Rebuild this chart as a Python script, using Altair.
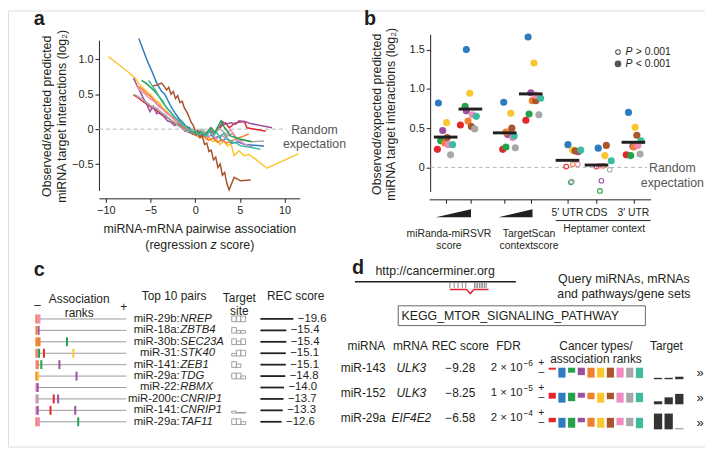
import altair as alt
import pandas as pd

# ---------------- shared categories ----------------
cancer_types = [f"Cancer type {i}" for i in range(1, 11)]
cancer_colors = ["#e5272d", "#2d7cc0", "#23a24a", "#9b4f9e", "#f1802e",
                 "#fcc630", "#a9542b", "#ef8bbf", "#a8a8a8", "#3dbc9d"]
RED, BLUE, GREEN, PURPLE, ORANGE, YELLOW, BROWN, PINK, GRAY, TEAL = range(10)

# ---------------- panel a: (z score, log2 obs/exp) ----------------
a_red = [(-6.9,0.49),(-6.4,0.45),(-5.9,0.40),(-5.4,0.36),(-4.9,0.31),(-4.4,0.28),(-3.9,0.22),(-3.4,0.18),(-2.9,0.15),(-2.4,0.09),(-1.9,0.06),(-1.4,0.02),(-0.9,-0.03),(-0.4,-0.06),(0.1,-0.09),(0.6,-0.05),(1.1,-0.10),(1.6,-0.04),(2.1,-0.07),(2.6,0.0),(3.0,0.05),(3.4,0.09),(3.8,0.02),(4.5,0.09),(5.5,0.11),(5.8,0.02),(7.9,-0.03)]
a_blue = [(-6.3,1.30),(-5.8,1.13),(-5.3,0.96),(-4.8,0.82),(-4.3,0.66),(-3.8,0.55),(-3.4,0.50),(-3.0,0.40),(-2.6,0.30),(-2.2,0.22),(-1.8,0.15),(-1.4,0.10),(-1.0,0.04),(-0.6,0.02),(-0.2,-0.06),(0.2,-0.03),(0.6,-0.09),(1.0,-0.05),(1.4,-0.11),(1.8,-0.08),(2.2,-0.14),(2.6,-0.10),(3.0,-0.17),(3.5,-0.13),(4.1,-0.20),(4.8,-0.18),(5.5,-0.22),(6.5,-0.23),(7.7,-0.24)]
a_green = [(-6.0,0.70),(-5.5,0.66),(-5.0,0.60),(-4.5,0.54),(-4.0,0.46),(-3.5,0.36),(-3.0,0.28),(-2.6,0.22),(-2.2,0.16),(-1.8,0.12),(-1.4,0.06),(-1.0,0.04),(-0.6,-0.02),(-0.2,-0.04),(0.2,-0.08),(0.6,-0.03),(1.0,-0.09),(1.4,-0.04),(1.8,0.02),(2.2,-0.05),(2.6,0.05),(2.9,0.12),(3.3,0.02),(4.0,-0.10),(5.0,-0.14),(6.3,-0.18)]
a_purple = [(-6.9,0.73),(-6.4,0.60),(-5.9,0.47),(-5.4,0.35),(-5.05,0.25),(-4.7,0.33),(-4.3,0.22),(-3.9,0.25),(-3.5,0.18),(-3.1,0.12),(-2.7,0.10),(-2.3,0.05),(-1.9,0.08),(-1.5,0.02),(-1.1,-0.03),(-0.7,0.0),(-0.3,-0.07),(0.1,-0.04),(0.5,-0.10),(0.9,-0.05),(1.3,-0.08),(1.7,-0.02),(2.1,-0.06),(2.5,0.0),(2.8,0.04),(3.06,0.11),(3.4,0.07),(4.0,0.09),(4.55,0.07),(4.9,0.12),(5.5,0.11),(6.2,0.08),(8.6,0.02)]
a_orange = [(-6.5,0.62),(-6.0,0.58),(-5.5,0.52),(-5.0,0.47),(-4.5,0.40),(-4.0,0.34),(-3.5,0.27),(-3.0,0.22),(-2.5,0.16),(-2.0,0.10),(-1.5,0.05),(-1.0,0.01),(-0.5,-0.04),(0.0,-0.08),(0.5,-0.12),(1.0,-0.10),(1.5,-0.16),(2.0,-0.13),(2.5,-0.19),(3.0,-0.15),(3.5,-0.20),(4.36,-0.15),(5.2,-0.11),(6.0,-0.07)]
a_yellow = [(-9.7,1.04),(-8.6,0.93),(-7.6,0.83),(-6.7,0.73),(-6.1,0.62),(-5.5,0.55),(-5.0,0.50),(-4.5,0.42),(-4.0,0.38),(-3.6,0.30),(-3.2,0.26),(-2.8,0.20),(-2.4,0.17),(-2.0,0.10),(-1.6,0.06),(-1.2,0.02),(-0.8,-0.02),(-0.4,-0.06),(0.0,-0.04),(0.4,-0.10),(0.8,-0.08),(1.2,-0.14),(1.6,-0.12),(2.0,-0.18),(2.4,-0.15),(2.8,-0.22),(3.2,-0.17),(3.6,-0.24),(4.0,-0.20),(4.36,-0.38),(4.9,-0.31),(5.46,-0.38),(6.0,-0.36),(6.76,-0.43),(8.04,-0.56),(11.6,-0.35)]
a_brown = [(-4.8,0.62),(-4.3,0.63),(-3.75,0.66),(-3.45,0.61),(-3.2,0.56),(-2.95,0.60),(-2.7,0.50),(-2.45,0.54),(-2.2,0.44),(-1.95,0.48),(-1.7,0.38),(-1.45,0.40),(-1.2,0.30),(-0.95,0.25),(-0.7,0.18),(-0.45,0.10),(-0.2,0.05),(0.05,-0.04),(0.3,-0.02),(0.55,-0.12),(0.8,-0.10),(1.05,-0.22),(1.3,-0.20),(1.55,-0.32),(1.8,-0.30),(2.05,-0.44),(2.3,-0.40),(2.55,-0.55),(2.8,-0.50),(3.05,-0.66),(3.3,-0.62),(3.55,-0.78),(3.8,-0.87),(4.36,-0.69),(5.1,-0.74),(6.2,-0.73)]
a_pink = [(-6.6,0.63),(-6.1,0.55),(-5.6,0.50),(-5.1,0.44),(-4.6,0.40),(-4.1,0.33),(-3.6,0.28),(-3.1,0.22),(-2.6,0.18),(-2.1,0.12),(-1.6,0.08),(-1.1,0.03),(-0.6,-0.01),(-0.1,-0.05),(0.4,-0.09),(0.9,-0.04),(1.4,-0.12),(1.9,-0.06),(2.4,-0.14),(2.9,-0.08),(3.4,-0.13),(3.9,0.0),(4.36,-0.08),(4.9,-0.17),(5.65,-0.22),(6.4,-0.26)]
a_gray = [(-6.8,0.50),(-6.3,0.46),(-5.8,0.42),(-5.3,0.37),(-4.8,0.32),(-4.3,0.30),(-3.8,0.24),(-3.3,0.20),(-2.8,0.13),(-2.3,0.10),(-1.8,0.04),(-1.3,0.0),(-0.8,-0.04),(-0.3,0.0),(0.2,-0.06),(0.7,0.0),(1.2,-0.05),(1.7,0.02),(2.2,-0.06),(2.7,0.01),(3.2,-0.04),(3.7,-0.10),(4.2,-0.06),(4.7,-0.17),(5.5,-0.16),(6.4,-0.18),(7.7,-0.17)]
a_teal = [(-5.2,0.70),(-4.8,0.62),(-4.4,0.55),(-4.0,0.46),(-3.6,0.40),(-3.2,0.30),(-2.8,0.26),(-2.4,0.18),(-2.0,0.14),(-1.6,0.08),(-1.2,0.05),(-0.8,0.0),(-0.4,-0.05),(0.0,-0.02),(0.4,-0.08),(0.8,-0.04),(1.2,-0.10),(1.6,-0.03),(2.0,-0.09),(2.4,-0.05),(2.8,-0.12),(3.2,-0.06),(3.6,-0.14),(4.1,-0.18),(4.6,-0.20),(5.1,-0.24),(6.2,-0.26),(7.3,-0.29)]
a_series = [(YELLOW, a_yellow), (BLUE, a_blue), (RED, a_red), (PURPLE, a_purple),
            (ORANGE, a_orange), (GRAY, a_gray), (PINK, a_pink), (GREEN, a_green),
            (BROWN, a_brown), (TEAL, a_teal)]
a_xticks = [-10, -5, 0, 5, 10]
a_yticks = [-0.5, 0, 0.5, 1.0]

# ---------------- panel b ----------------
b_groups = ["miRanda-miRSVR low", "miRanda-miRSVR high", "TargetScan low", "TargetScan high",
            "5′ UTR", "CDS", "3′ UTR"]
b_center = [0.67, 1.675, 3.07, 4.13, 5.62, 6.80, 8.30]
b_median = [0.386, 0.743, 0.44, 0.936, 0.09, 0.03, 0.32]
# dot order within each group: red, blue, green, purple, orange, yellow, brown, pink, gray, teal
b_x = [[0.335, 0.375, 0.47, 0.55, 0.64, 0.71, 0.735, 0.78, 0.87, 0.95],
       [1.27, 1.51, 1.46, 1.51, 1.58, 1.65, 1.715, 1.755, 1.85, 1.915],
       [2.99, 3.03, 3.12, 3.19, 3.12, 3.32, 3.36, 3.39, 3.50, 3.455],
       [3.93, 4.02, 4.06, 4.13, 4.19, 4.26, 4.33, 4.33, 4.46, 4.53],
       [5.57, 5.64, 5.76, 6.06, 5.84, 5.83, 5.93, 6.04, 5.80, 6.16],
       [6.80, 6.87, 6.94, 7.00, 7.07, 7.14, 7.20, 6.91, 7.34, 7.40],
       [8.01, 8.10, 8.19, 8.28, 8.32, 8.37, 8.44, 8.48, 8.57, 8.61]]
b_v = [[0.23, 0.82, 0.34, 0.47, 0.31, 0.57, 0.38, 0.29, 0.16, 0.29],
       [0.54, 1.50, 0.777, 0.72, 0.59, 0.945, 0.52, 0.67, 0.49, 0.65],
       [0.23, 0.83, 0.26, 0.42, 0.45, 0.69, 0.50, 0.38, 0.25, 0.40],
       [0.60, 1.66, 0.68, 0.95, 0.85, 1.33, 0.85, 0.92, 0.67, 0.88],
       [0.01, 0.29, -0.19, 0.20, 0.04, 0.22, 0.21, 0.04, -0.18, 0.22],
       [0.01, 0.245, -0.30, -0.17, 0.02, 0.15, 0.28, 0.02, -0.03, 0.085],
       [0.16, 0.70, 0.15, 0.27, 0.26, 0.51, 0.41, 0.28, 0.17, 0.34]]
b_sig = [[1] * 10, [1] * 10, [1] * 10, [1] * 10,
         [0, 1, 0, 1, 0, 1, 1, 0, 0, 1],
         [0, 1, 0, 0, 0, 1, 1, 0, 0, 1],
         [1] * 10]
b_yticks = [0, 0.5, 1.0, 1.5]
b_wedges = [(0.27, 1.70), (2.82, 4.20)]

# ---------------- panel c ----------------
c_mirna = ["miR-29b:", "miR-18a:", "miR-30b:", "miR-31:", "miR-141:", "miR-29a:",
           "miR-22:", "miR-200c:", "miR-141:", "miR-29a:"]
c_gene = ["NREP", "ZBTB4", "SEC23A", "STK40", "ZEB1", "TDG", "RBMX", "CNRIP1", "CNRIP1", "TAF11"]
c_rec = [-19.6, -15.4, -15.4, -15.1, -15.1, -14.8, -14.0, -13.7, -13.3, -12.6]
c_ranks = [[(0, ORANGE), (2, PINK), (3.5, PINK)],
           [(0, ORANGE), (2.5, PURPLE)],
           [(0, ORANGE), (2, ORANGE), (3.5, ORANGE), (34, GREEN)],
           [(0, ORANGE), (1.5, PINK), (3, GREEN), (8.4, RED), (41, YELLOW)],
           [(0, PINK), (1.5, ORANGE), (5.5, GREEN), (25.6, PURPLE)],
           [(0, ORANGE), (2, YELLOW), (44.6, PURPLE)],
           [(0, PINK), (1.5, PURPLE)],
           [(0, PINK), (1.5, GRAY), (19.3, RED), (24.2, PURPLE)],
           [(0, PINK), (1.5, PURPLE), (15.7, RED), (43.2, PURPLE)],
           [(0, ORANGE), (1.5, PINK), (3, PINK), (46.5, GREEN)]]
c_site = [[1, 1, 1], [1, 0.45, 0.45], [1, 0.6, 1], [0.45, 1, 1], [1, 0.6],
          [1, 1, 0.5], [], [], [0.35, 0.1, 0.1], [1, 1, 0.5]]

# ---------------- panel d ----------------
d_mirna = ["miR-143", "miR-152", "miR-29a"]
d_mrna = ["ULK3", "ULK3", "EIF4E2"]
d_rec = [-9.28, -8.25, -6.58]
d_fdr = [2e-6, 1e-5, 2e-4]
d_assoc = [[0.2, 1.0, 0.5, 0.75, 1.0, 1.0, 1.0, 1.0, 1.0, 1.05],
           [0.6, 1.0, 0.85, 0.5, 0.65, 1.0, 0.65, 1.0, 1.0, 0.95],
           [0.45, 1.0, 1.0, 0.45, 0.9, 1.0, 1.0, 0.75, 0.85, 1.05]]
d_target = [[0.09, 0.09, 0.16], [0.19, 0.44, 0.66], [1.0, 1.0, 0.09]]
d_target_shade = [["dark", "dark", "dark"], ["dark", "dark", "dark"], ["dark", "dark", "light"]]
d_sites = [0, 0.11, 0.21, 0.32, 0.41, 0.64, 0.68, 0.72, 0.77, 0.81, 0.85, 0.90, 0.94]
d_loop = [(0, 0), (0.43, 0), (0.53, 1), (0.62, 0), (1.0, 0)]

# ---------------- helpers ----------------
W, H = 705, 441
INK = "#231f20"
FONT = "Liberation Sans"


def P(v):
    return v - 8


def lin(domain, rng):
    return alt.Scale(domain=domain, range=rng, nice=False, zero=False)


type_color = alt.Color("type:N", scale=alt.Scale(domain=cancer_types, range=cancer_colors), legend=None)


def label(text, px, py, size=12, align="center", baseline="middle", color=INK, **kw):
    return alt.Chart(pd.DataFrame({"t": [text]})).mark_text(
        font=FONT, fontSize=size, align=align, baseline=baseline, color=color, lineBreak="\n", **kw
    ).encode(x=alt.value(P(px)), y=alt.value(P(py)), text="t:N")


AX = dict(grid=False, title=None, domainColor=INK, tickColor=INK, labelColor=INK, labelFont=FONT,
          labelFontSize=11, tickSize=4, labelPadding=2, domainWidth=1, tickWidth=1,
          labelFlush=False, labelOverlap=False)

layers = []

# ================= panel a =================
a_rows = []
for t, pts in a_series:
    for i, (z, v) in enumerate(pts):
        a_rows.append({"type": cancer_types[t], "z": z, "v": v, "i": i})
a_df = pd.DataFrame(a_rows)
xa = lin([-10.76, 11.69], [P(100), P(303)])
ya = lin([-0.878, 1.275], [P(190), P(38)])

layers.append(
    alt.Chart(pd.DataFrame({"v": [0.0], "z0": [-10.76], "z1": [10.2]}))
    .mark_rule(color="#b5b5b5", strokeDash=[4, 3], strokeWidth=1)
    .encode(x=alt.X("z0:Q", scale=xa, axis=None), x2="z1:Q", y=alt.Y("v:Q", scale=ya, axis=None))
)
layers.append(
    alt.Chart(a_df).mark_line(strokeWidth=1.5).encode(
        x=alt.X("z:Q", scale=xa, axis=alt.Axis(orient="bottom", offset=P(198) - H, values=a_xticks,
                                                labelExpr="format(datum.value, 'd')", **AX)),
        y=alt.Y("v:Q", scale=ya, axis=alt.Axis(orient="left", offset=-P(100), values=a_yticks,
                                                labelExpr="datum.value == 0 ? '0' : format(datum.value, '.1f')", **AX)),
        color=type_color, order="i:Q")
)
layers += [
    label("a", 34, 22.5, size=20, align="left", baseline="alphabetic", fontWeight="bold"),
    label("Observed/expected predicted\nmiRNA target interactions (log₂)", 47.5, 115, size=12.5, angle=270, lineHeight=15),
    label("miRNA-mRNA pairwise association", 202, 229, size=12.5),
    label("(regression", 209.3, 245, size=12.5, align="right"),
    label("z", 212.8, 245, size=12.5, align="left", fontStyle="italic"),
    label("score)", 222.4, 245, size=12.5, align="left"),
    label("Random\nexpectation", 318, 128.5, size=12.5, lineHeight=15, color="#555555"),
]

# ================= panel b =================
b_rows = []
for g in range(len(b_groups)):
    for k in range(10):
        b_rows.append({"group": b_groups[g], "type": cancer_types[k], "x": b_x[g][k],
                       "v": b_v[g][k], "sig": bool(b_sig[g][k])})
b_df = pd.DataFrame(b_rows)
xb = lin([0, 9], [P(434), P(658)])
yb = lin([-0.306, 1.696], [P(191), P(32)])

layers.append(
    alt.Chart(pd.DataFrame({"v": [0.0], "x0": [0.05], "x1": [8.85]}))
    .mark_rule(color="#b5b5b5", strokeDash=[4, 3], strokeWidth=1)
    .encode(x=alt.X("x0:Q", scale=xb, axis=None), x2="x1:Q", y=alt.Y("v:Q", scale=yb, axis=None))
)
layers.append(
    alt.Chart(b_df).transform_filter("datum.sig").mark_circle(size=52, opacity=1).encode(
        x=alt.X("x:Q", scale=xb, axis=alt.Axis(orient="bottom", offset=P(199) - H, values=b_center,
                                                labels=False, **AX)),
        y=alt.Y("v:Q", scale=yb, axis=alt.Axis(orient="left", offset=-P(435), values=b_yticks,
                                                labelExpr="datum.value == 0 ? '0' : format(datum.value, '.1f')", **AX)),
        color=type_color)
)
layers.append(
    alt.Chart(b_df).transform_filter("!datum.sig").mark_point(filled=False, size=22, strokeWidth=1.1, opacity=1).encode(
        x=alt.X("x:Q", scale=xb, axis=None), y=alt.Y("v:Q", scale=yb, axis=None), color=type_color)
)
layers.append(
    alt.Chart(pd.DataFrame({"c": b_center, "m": b_median}))
    .transform_calculate(lo="datum.c - 0.48", hi="datum.c + 0.48")
    .mark_rule(color=INK, strokeWidth=3)
    .encode(x=alt.X("lo:Q", scale=xb, axis=None), x2="hi:Q", y=alt.Y("m:Q", scale=yb, axis=None))
)
w_rows = []
for wi, (x0, x1) in enumerate(b_wedges):
    w_rows += [{"w": wi, "x": x0, "h": 0.0}, {"w": wi, "x": x1, "h": 1.0}]
layers.append(
    alt.Chart(pd.DataFrame(w_rows)).transform_calculate(h0="0").mark_area(color=INK, opacity=1).encode(
        x=alt.X("x:Q", scale=xb, axis=None),
        y=alt.Y("h:Q", scale=lin([0, 1], [P(217), P(209)]), axis=None),
        y2="h0:Q", detail="w:N")
)
layers.append(
    alt.Chart(pd.DataFrame({"c": b_center[4:], "t": b_groups[4:]})).mark_text(
        font=FONT, fontSize=10.5, color=INK, baseline="middle").encode(
        x=alt.X("c:Q", scale=xb, axis=None), y=alt.value(P(213)), text="t:N")
)
layers += [
    label("b", 368, 23, size=20, align="left", baseline="alphabetic", fontWeight="bold"),
    label("Observed/expected predicted\nmiRNA target interactions (log₂)", 380.8, 113, size=12.5, angle=270, lineHeight=15),
    label("miRanda-miRSVR\nscore", 454, 234, size=10.5, lineHeight=12.5),
    label("TargetScan\ncontextscore", 535, 234, size=10.5, lineHeight=12.5),
    label("Heptamer context", 611, 229.5, size=10.5),
    label("Random\nexpectation", 680, 167, size=12.5, lineHeight=16, color="#555555"),
    label("P", 632.5, 50, size=10.5, align="left", fontStyle="italic"),
    label("> 0.001", 643, 50, size=10.5, align="left"),
    label("P", 632.5, 62, size=10.5, align="left", fontStyle="italic"),
    label("< 0.001", 643, 62, size=10.5, align="left"),
]
layers.append(
    alt.Chart(pd.DataFrame({"a": [0]})).mark_rule(color=INK, strokeWidth=1)
    .encode(x=alt.value(P(562)), x2=alt.value(P(658)), y=alt.value(P(220.5)))
)
layers.append(
    alt.Chart(pd.DataFrame({"a": [0]})).mark_point(filled=False, size=22, strokeWidth=1.1, color="#555555", opacity=1)
    .encode(x=alt.value(P(625)), y=alt.value(P(50)))
)
layers.append(
    alt.Chart(pd.DataFrame({"a": [0]})).mark_circle(size=45, color="#555555", opacity=1)
    .encode(x=alt.value(P(625)), y=alt.value(P(62)))
)

# ================= panel c =================
yc = lin([0, 9], [P(320), P(424)])
xrank = lin([0, 100], [P(36.7), P(127.7)])
xsite = lin([0, 3], [P(234.3), P(248.3)])
xrec = lin([0, 20], [P(263.3), P(297.3)])

c_df = pd.DataFrame({"r": list(range(10)), "mir": c_mirna, "gene": c_gene, "rec": c_rec,
                     "rec_txt": [f"−{abs(v):.1f}" for v in c_rec]})
layers.append(
    alt.Chart(c_df).transform_calculate(lo="0", hi="100").mark_rule(color="#9a9a9a", strokeWidth=1)
    .encode(x=alt.X("lo:Q", scale=xrank, axis=None), x2="hi:Q", y=alt.Y("r:Q", scale=yc, axis=None))
)
tick_rows = []
for r, ticks in enumerate(c_ranks):
    for rank, t in ticks:
        tick_rows.append({"r": r, "rank": rank, "type": cancer_types[t]})
layers.append(
    alt.Chart(pd.DataFrame(tick_rows)).transform_calculate(y0="datum.r - 0.39", y1="datum.r + 0.39")
    .mark_rule(strokeWidth=2).encode(
        x=alt.X("rank:Q", scale=xrank, axis=None), y=alt.Y("y0:Q", scale=yc, axis=None), y2="y1:Q",
        color=type_color)
)
layers.append(
    alt.Chart(c_df).mark_text(font=FONT, fontSize=11.5, align="right", baseline="middle", color=INK)
    .encode(x=alt.value(P(181.7)), y=alt.Y("r:Q", scale=yc, axis=None), text="mir:N")
)
layers.append(
    alt.Chart(c_df).mark_text(font=FONT, fontSize=11.5, align="left", baseline="middle", color=INK, fontStyle="italic")
    .encode(x=alt.value(P(182.3)), y=alt.Y("r:Q", scale=yc, axis=None), text="gene:N")
)
site_rows = []
for r, hs in enumerate(c_site):
    for i, h in enumerate(hs):
        site_rows.append({"r": r, "i": i, "h": h})
layers.append(
    alt.Chart(pd.DataFrame(site_rows))
    .transform_calculate(i1="datum.i + 1", bot="datum.r + 0.24", top="datum.r + 0.24 - 0.5 * datum.h")
    .mark_rect(fill="white", stroke="#8a8a8a", strokeWidth=0.8)
    .encode(x=alt.X("i:Q", scale=xsite, axis=None), x2="i1:Q",
            y=alt.Y("bot:Q", scale=yc, axis=None), y2="top:Q")
)
layers.append(
    alt.Chart(c_df).transform_calculate(zero="0", mag="-datum.rec").mark_rule(color=INK, strokeWidth=1.8)
    .encode(x=alt.X("zero:Q", scale=xrec, axis=None), x2="mag:Q", y=alt.Y("r:Q", scale=yc, axis=None))
)
layers.append(
    alt.Chart(c_df).transform_calculate(mag="-datum.rec")
    .mark_text(font=FONT, fontSize=11.5, align="left", baseline="middle", color=INK, dx=4.5)
    .encode(x=alt.X("mag:Q", scale=xrec, axis=None), y=alt.Y("r:Q", scale=yc, axis=None), text="rec_txt:N")
)
layers += [
    label("c", 34, 277, size=20, align="left", baseline="alphabetic", fontWeight="bold"),
    label("Association\nranks", 80, 299.7, size=12, lineHeight=14),
    label("–", 38, 306, size=12),
    label("+", 125, 308, size=12),
    label("Top 10 pairs", 176, 296.7, size=12),
    label("Target\nsite", 242, 298.4, size=12, lineHeight=13.3),
    label("REC score", 299, 296.7, size=12),
]

# ================= panel d =================
yd = lin([0, 2], [P(369.3), P(420)])
mant, expo = [], []
for f in d_fdr:
    m, e = f"{f:.0e}".split("e")
    mant.append(f"{m} × 10")
    expo.append("−" + str(int(e[1:])) if e.startswith("-") else str(int(e)))
d_df = pd.DataFrame({"r": [0, 1, 2], "mirna": d_mirna, "mrna": d_mrna,
                     "rec": [f"−{abs(v):.2f}" for v in d_rec], "mant": mant, "expo": expo,
                     "plus": ["+"] * 3, "minus": ["–"] * 3, "more": ["»"] * 3})


def dcol(field, px, align="center", size=12, dy=0, style="normal"):
    return alt.Chart(d_df).mark_text(font=FONT, fontSize=size, align=align, baseline="middle", color=INK,
                                     dy=dy, fontStyle=style).encode(
        x=alt.value(P(px)), y=alt.Y("r:Q", scale=yd, axis=None), text=f"{field}:N")


layers += [
    dcol("mirna", 390, align="right"),
    dcol("mrna", 416, style="italic"),
    dcol("rec", 465.5),
    dcol("mant", 528.5, align="right", size=11.5),
    dcol("expo", 529.3, align="left", size=8.5, dy=-5),
    dcol("plus", 547.5, size=10.5, dy=-5),
    dcol("minus", 547.5, size=10.5, dy=4.7),
    dcol("more", 708, size=13, dy=5),
]
assoc_rows = []
for r in range(3):
    for k in range(10):
        assoc_rows.append({"r": r, "k": k, "type": cancer_types[k], "len": d_assoc[r][k]})
layers.append(
    alt.Chart(pd.DataFrame(assoc_rows))
    .transform_calculate(x0="datum.k - 0.37", x1="datum.k + 0.37", y1="datum.r + 0.394 * datum.len")
    .mark_rect().encode(
        x=alt.X("x0:Q", scale=lin([0, 9], [P(558.5), P(646.7)]), axis=None), x2="x1:Q",
        y=alt.Y("r:Q", scale=yd, axis=None), y2="y1:Q", color=type_color)
)
tgt_rows = []
for r in range(3):
    for j in range(3):
        tgt_rows.append({"r": r, "j": j, "h": d_target[r][j], "shade": d_target_shade[r][j]})
layers.append(
    alt.Chart(pd.DataFrame(tgt_rows))
    .transform_calculate(x0="datum.j - 0.39", x1="datum.j + 0.39", yb0="datum.r + 0.46",
                         yb1="datum.r + 0.46 - 0.63 * datum.h")
    .mark_rect().encode(
        x=alt.X("x0:Q", scale=lin([0, 2], [P(665.5), P(687)]), axis=None), x2="x1:Q",
        y=alt.Y("yb0:Q", scale=yd, axis=None), y2="yb1:Q",
        color=alt.Color("shade:N", scale=alt.Scale(domain=["dark", "light"], range=["#333333", "#aaaaaa"]), legend=None))
)
xsch = lin([0, 1], [P(455), P(494)])
layers.append(
    alt.Chart(pd.DataFrame({"f": d_sites})).mark_rule(color="#777777", strokeWidth=0.9)
    .encode(x=alt.X("f:Q", scale=xsch, axis=None), y=alt.value(P(283.5)), y2=alt.value(P(288.8)))
)
layers.append(
    alt.Chart(pd.DataFrame({"f": [p[0] for p in d_loop], "dip": [p[1] for p in d_loop], "i": range(len(d_loop))}))
    .mark_line(color="#e5272d", strokeWidth=1.5)
    .encode(x=alt.X("f:Q", scale=xsch, axis=None),
            y=alt.Y("dip:Q", scale=lin([0, 1], [P(290.3), P(294.3)]), axis=None), order="i:Q")
)
layers.append(
    alt.Chart(pd.DataFrame({"a": [0]})).mark_rule(color=INK, strokeWidth=1.5)
    .encode(x=alt.value(P(359)), x2=alt.value(P(521.7)), y=alt.value(P(282.3)))
)
layers.append(
    alt.Chart(pd.DataFrame({"a": [0]})).mark_rect(fill="white", stroke="#666666", strokeWidth=1)
    .encode(x=alt.value(P(402.7)), x2=alt.value(P(652.7)), y=alt.value(P(306.7)), y2=alt.value(P(326.7)))
)
layers += [
    label("d", 356, 275, size=20, align="left", baseline="alphabetic", fontWeight="bold"),
    label("http://cancerminer.org", 440, 271.7, size=12.5),
    label("Query miRNAs, mRNAs\nand pathways/gene sets", 631, 279.5, size=12.5, lineHeight=15.6),
    label("KEGG_MTOR_SIGNALING_PATHWAY", 406, 316.7, size=12.5, align="left"),
    label("miRNA", 389.5, 347.3, size=12, align="right"),
    label("mRNA", 415, 347.3, size=12),
    label("REC score", 465.5, 347.3, size=12),
    label("FDR", 514.3, 347.3, size=12),
    label("Cancer types/\nassociation ranks", 602.7, 347.4, size=12, lineHeight=13.3),
    label("Target", 674, 347.3, size=12),
]

chart = (
    alt.layer(*layers)
    .resolve_scale(x="independent", y="independent", color="independent")
    .properties(width=W, height=H, padding=0, autosize=alt.AutoSizeParams(type="none"))
    .configure_view(stroke=None)
    .configure(font=FONT)
)
chart.save("out.html", embed_options={"renderer": "svg", "actions": False})
